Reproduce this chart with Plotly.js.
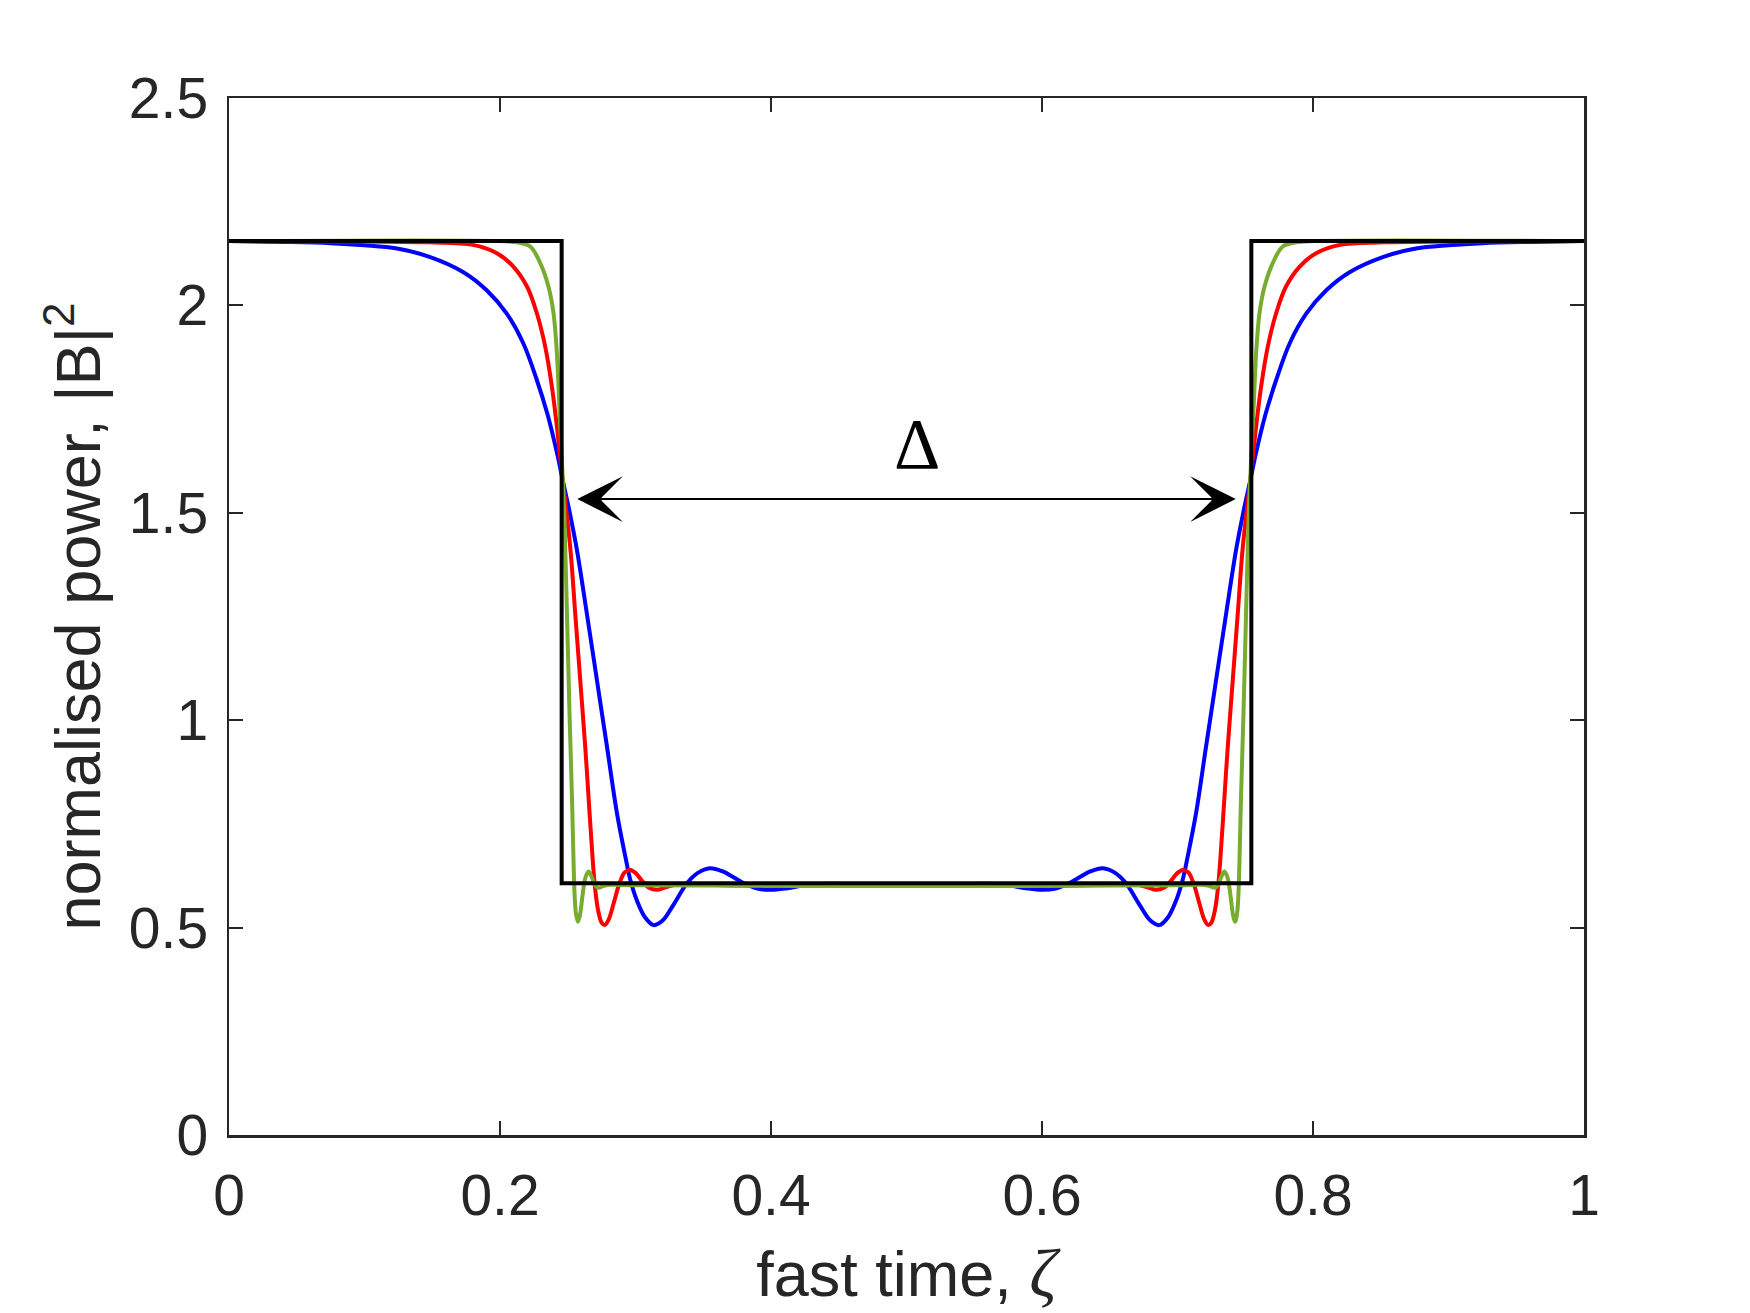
<!DOCTYPE html>
<html>
<head>
<meta charset="utf-8">
<script src="https://cdn.plot.ly/plotly-3.0.1.min.js"></script>
<style>
  body { margin: 0; background: #fff; }
  #chart { width: 1750px; height: 1313px; }
</style>
</head>
<body>
<div id="chart"></div>
<script>
// ideal step profile
var stepX = [0, 0.2455, 0.2455, 0.7545, 0.7545, 1];
var stepY = [2.155, 2.155, 0.607, 0.607, 2.155, 2.155];

// widest transition (blue)
var blueX = [0, 0.04, 0.075, 0.1, 0.124, 0.148, 0.173, 0.19, 0.205, 0.217, 0.227, 0.235, 0.242, 0.2465, 0.2515, 0.2568, 0.2642, 0.2716, 0.279, 0.2863, 0.2925, 0.2962, 0.3011, 0.307, 0.3134, 0.32, 0.328, 0.338, 0.346, 0.355, 0.364, 0.372, 0.38, 0.39, 0.4, 0.412, 0.427, 0.445, 0.47, 0.5,
  0.53, 0.555, 0.573, 0.588, 0.6, 0.61, 0.62, 0.628, 0.636, 0.645, 0.654, 0.662, 0.672, 0.68, 0.6866, 0.693, 0.6989, 0.7038, 0.7075, 0.7137, 0.721, 0.7284, 0.7358, 0.7432, 0.7485, 0.7535, 0.758, 0.765, 0.773, 0.783, 0.795, 0.81, 0.827, 0.852, 0.876, 0.9, 0.925, 0.96, 1];
var blueY = [2.155, 2.153, 2.150, 2.145, 2.137, 2.117, 2.080, 2.037, 1.980, 1.910, 1.822, 1.738, 1.645, 1.575, 1.500, 1.410, 1.255, 1.095, 0.935, 0.776, 0.671, 0.615, 0.565, 0.525, 0.506, 0.517, 0.555, 0.607, 0.632, 0.643, 0.636, 0.622, 0.607, 0.594, 0.591, 0.595, 0.603, 0.606, 0.602, 0.600,
  0.602, 0.606, 0.603, 0.595, 0.591, 0.594, 0.607, 0.622, 0.636, 0.643, 0.632, 0.607, 0.555, 0.517, 0.506, 0.525, 0.565, 0.615, 0.671, 0.776, 0.935, 1.095, 1.255, 1.410, 1.500, 1.575, 1.645, 1.738, 1.822, 1.910, 1.980, 2.037, 2.080, 2.117, 2.137, 2.145, 2.150, 2.153, 2.155];

// middle transition (red)
var redX = [0, 0.1, 0.148, 0.18, 0.1977, 0.21, 0.22, 0.2272, 0.2334, 0.2383, 0.242, 0.2465, 0.2518, 0.2555, 0.2592, 0.2629, 0.2661, 0.2686, 0.2703, 0.2725, 0.275, 0.2772, 0.28, 0.284, 0.288, 0.292, 0.2962, 0.3, 0.305, 0.31, 0.3159, 0.322, 0.33, 0.34, 0.36, 0.4, 0.5,
  0.6, 0.64, 0.66, 0.67, 0.678, 0.6841, 0.69, 0.695, 0.7, 0.7038, 0.708, 0.712, 0.716, 0.72, 0.7228, 0.725, 0.7275, 0.7297, 0.7314, 0.7339, 0.7371, 0.7408, 0.7445, 0.7482, 0.7535, 0.758, 0.7617, 0.7666, 0.7728, 0.78, 0.79, 0.8023, 0.82, 0.852, 0.9, 1];
var redY = [2.155, 2.154, 2.152, 2.146, 2.126, 2.093, 2.045, 1.981, 1.900, 1.804, 1.708, 1.572, 1.418, 1.258, 1.097, 0.936, 0.776, 0.655, 0.591, 0.540, 0.512, 0.506, 0.518, 0.560, 0.605, 0.633, 0.639, 0.632, 0.612, 0.596, 0.591, 0.597, 0.604, 0.606, 0.603, 0.601, 0.600,
  0.601, 0.603, 0.606, 0.604, 0.597, 0.591, 0.596, 0.612, 0.632, 0.639, 0.633, 0.605, 0.560, 0.518, 0.506, 0.512, 0.540, 0.591, 0.655, 0.776, 0.936, 1.097, 1.258, 1.418, 1.572, 1.708, 1.804, 1.900, 1.981, 2.045, 2.093, 2.126, 2.146, 2.152, 2.154, 2.155];

// sharpest transition (green)
var greenX = [0, 0.2, 0.2125, 0.2223, 0.2297, 0.2358, 0.2395, 0.242, 0.2437, 0.2455, 0.2474, 0.2494, 0.2513, 0.2531, 0.2543, 0.2551, 0.256, 0.2575, 0.259, 0.261, 0.263, 0.2654, 0.268, 0.27, 0.2728, 0.276, 0.2814, 0.3, 0.5,
  0.7, 0.7186, 0.724, 0.7272, 0.73, 0.732, 0.7346, 0.737, 0.739, 0.741, 0.7425, 0.744, 0.7449, 0.7457, 0.7469, 0.7487, 0.7506, 0.7526, 0.7545, 0.7563, 0.758, 0.7605, 0.7642, 0.7703, 0.7777, 0.7875, 0.8, 1];
var greenY = [2.155, 2.155, 2.152, 2.142, 2.102, 2.045, 1.981, 1.884, 1.764, 1.640, 1.499, 1.258, 1.017, 0.816, 0.655, 0.576, 0.535, 0.514, 0.530, 0.580, 0.620, 0.635, 0.620, 0.602, 0.596, 0.600, 0.603, 0.602, 0.600,
  0.602, 0.603, 0.600, 0.596, 0.602, 0.620, 0.635, 0.620, 0.580, 0.530, 0.514, 0.535, 0.576, 0.655, 0.816, 1.017, 1.258, 1.499, 1.640, 1.764, 1.884, 1.981, 2.045, 2.102, 2.142, 2.152, 2.155, 2.155];

// width marker
var arrowY = 1.533;
var arrowTips = [0.257, 0.743];
var arrowTails = [0.53, 0.47];
var deltaPos = [0.508, 1.665];

var axisCol = '#262626';
var sans = 'Liberation Sans, Arial, Helvetica, sans-serif';

function curve(x, y, col) {
  return {x: x, y: y, mode: 'lines', line: {color: col, width: 4, shape: 'spline', smoothing: 1}, hoverinfo: 'skip'};
}

var data = [
  curve(blueX, blueY, '#0000ff'),
  curve(redX, redY, '#ff0000'),
  curve(greenX, greenY, '#77ac30'),
  {x: stepX, y: stepY, mode: 'lines', line: {color: '#000000', width: 4}, hoverinfo: 'skip'}
];

var arrows = arrowTips.map(function (tx, i) {
  return {
    x: tx, y: arrowY, ax: arrowTails[i], ay: arrowY, axref: 'x', ayref: 'y',
    text: '', showarrow: true, arrowhead: 3, arrowsize: 3.8, arrowwidth: 2, arrowcolor: '#000'
  };
});

var layout = {
  width: 1750, height: 1313, autosize: false,
  paper_bgcolor: '#fff', plot_bgcolor: '#fff',
  showlegend: false,
  margin: {l: 229, r: 166, t: 98, b: 178, pad: 0},
  font: {family: sans, color: axisCol},
  xaxis: {
    range: [0, 1], tickvals: [0, 0.2, 0.4, 0.6, 0.8, 1],
    showgrid: false, zeroline: false,
    showline: true, linecolor: axisCol, linewidth: 2.5, mirror: 'ticks',
    ticks: 'inside', ticklen: 14, tickwidth: 2, tickcolor: axisCol,
    tickfont: {size: 57, family: sans, color: axisCol},
    ticklabelstandoff: 9,
    title: {text: 'fast time, <span style="font-family:Liberation Serif;font-size:68px"><i>ζ</i></span>', font: {size: 63, family: sans, color: axisCol}, standoff: 26}
  },
  yaxis: {
    range: [0, 2.5], tickvals: [0, 0.5, 1, 1.5, 2, 2.5],
    showgrid: false, zeroline: false,
    showline: true, linecolor: axisCol, linewidth: 2.5, mirror: 'ticks',
    ticks: 'inside', ticklen: 14, tickwidth: 2, tickcolor: axisCol,
    tickfont: {size: 57, family: sans, color: axisCol},
    ticklabelstandoff: 7,
    title: {text: 'normalised power, |B|<sup>2</sup>', font: {size: 63, family: sans, color: axisCol}, standoff: 8}
  },
  annotations: arrows.concat([{
    x: deltaPos[0], y: deltaPos[1], text: 'Δ', showarrow: false,
    font: {family: 'Liberation Serif', size: 72, color: '#000'}
  }])
};

Plotly.newPlot(document.getElementById('chart'), data, layout, {staticPlot: true});
</script>
</body>
</html>
